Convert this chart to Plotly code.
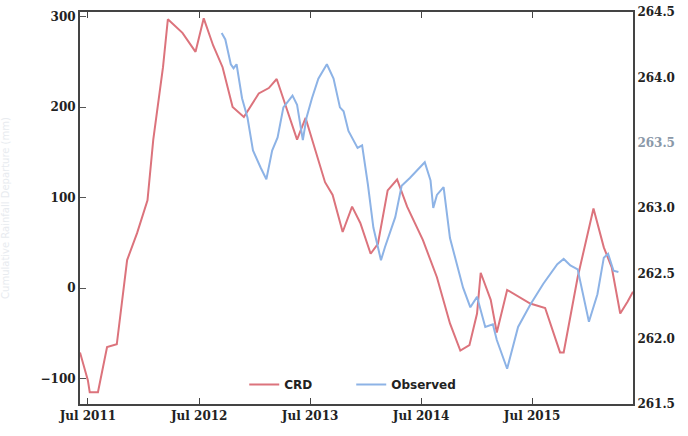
import plotly.graph_objects as go

# Cumulative rainfall departure (left axis)
crd_dates = [
    "2011-06-05", "2011-07-01", "2011-07-07", "2011-08-03", "2011-09-02", "2011-10-04",
    "2011-11-07", "2011-12-10", "2012-01-13", "2012-02-01", "2012-03-04", "2012-03-20",
    "2012-05-07", "2012-06-19", "2012-07-16", "2012-08-16", "2012-09-16", "2012-10-19",
    "2012-11-25", "2013-01-13", "2013-02-15", "2013-03-13", "2013-04-16", "2013-05-19",
    "2013-06-16", "2013-07-16", "2013-08-19", "2013-09-13", "2013-10-16", "2013-11-16",
    "2013-12-13", "2014-01-16", "2014-02-09", "2014-03-13", "2014-04-13", "2014-05-16",
    "2014-07-07", "2014-08-22", "2014-10-04", "2014-11-07", "2014-12-07", "2015-01-01",
    "2015-01-13", "2015-02-15", "2015-03-07", "2015-04-10", "2015-06-25", "2015-08-13",
    "2015-10-01", "2015-10-13", "2015-11-28", "2016-01-19", "2016-02-22", "2016-03-19",
    "2016-04-16", "2016-05-10", "2016-05-28",
]
crd_values = [
    -71, -102, -115, -115, -65, -62,
    31, 61, 97, 164, 244, 297,
    282, 261, 298, 268, 244, 200,
    189, 215, 221, 231, 197, 164,
    188, 156, 117, 103, 62, 90,
    72, 38, 49, 108, 120, 90,
    53, 12, -39, -69, -63, -28,
    17, -13, -49, -2, -17, -22,
    -71, -71, 12, 88, 45, 23,
    -28, -15, -4,
]

# Observed groundwater level (right axis)
obs_dates = [
    "2012-09-13", "2012-09-25", "2012-10-13", "2012-10-22", "2012-11-01", "2012-11-07",
    "2012-11-19", "2012-12-07", "2012-12-25", "2013-01-19", "2013-02-07", "2013-02-26",
    "2013-03-16", "2013-04-04", "2013-05-04", "2013-05-19", "2013-05-28", "2013-06-07",
    "2013-06-19", "2013-07-07", "2013-07-28", "2013-08-25", "2013-09-16", "2013-10-07",
    "2013-10-19", "2013-11-04", "2013-12-04", "2013-12-19", "2014-01-07", "2014-01-25",
    "2014-02-19", "2014-03-04", "2014-04-07", "2014-04-28", "2014-05-25", "2014-07-13",
    "2014-08-01", "2014-08-10", "2014-08-22", "2014-09-13", "2014-10-04", "2014-10-28",
    "2014-11-16", "2014-12-10", "2015-01-01", "2015-01-28", "2015-02-22", "2015-03-07",
    "2015-04-10", "2015-05-16", "2015-06-25", "2015-08-07", "2015-09-22", "2015-10-13",
    "2015-11-04", "2015-11-28", "2015-12-16", "2016-01-04", "2016-02-01", "2016-02-22",
    "2016-03-07", "2016-03-25", "2016-04-10",
]
obs_values = [
    264.34, 264.29, 264.10, 264.07, 264.10, 264.02,
    263.84, 263.69, 263.44, 263.31, 263.22, 263.44,
    263.54, 263.77, 263.86, 263.79, 263.67, 263.52,
    263.69, 263.84, 263.99, 264.10, 263.99, 263.77,
    263.74, 263.59, 263.46, 263.48, 263.18, 262.85,
    262.60, 262.70, 262.93, 263.17, 263.23, 263.35,
    263.21, 263.00, 263.10, 263.16, 262.77, 262.55,
    262.39, 262.24, 262.32, 262.09, 262.11, 261.99,
    261.77, 262.09, 262.26, 262.42, 262.57, 262.61,
    262.56, 262.53, 262.34, 262.13, 262.34, 262.62,
    262.65, 262.52, 262.51,
]

x_ticks = ["2011-07-01", "2012-07-01", "2013-07-01", "2014-07-01", "2015-07-01"]
x_tick_labels = ["Jul 2011", "Jul 2012", "Jul 2013", "Jul 2014", "Jul 2015"]
left_ticks = [-100, 0, 100, 200, 300]
right_ticks = [261.5, 262.0, 262.5, 263.0, 263.5, 264.0, 264.5]

axis_font = dict(family="DejaVu Serif", size=12, color="#222222")

fig = go.Figure()
fig.add_trace(go.Scatter(
    x=crd_dates, y=crd_values, name="<b>CRD</b>", mode="lines",
    line=dict(color="#dc737c", width=2), yaxis="y",
))
fig.add_trace(go.Scatter(
    x=obs_dates, y=obs_values, name="<b>Observed</b>", mode="lines",
    line=dict(color="#8db3e6", width=2), yaxis="y2",
))

fig.update_layout(
    width=688, height=436,
    margin=dict(l=80, r=55, t=12, b=32),
    paper_bgcolor="white", plot_bgcolor="white",
    showlegend=True,
    legend=dict(
        orientation="h", x=0.297, xanchor="left", y=0.05, yanchor="middle",
        bgcolor="rgba(0,0,0,0)", font=dict(family="DejaVu Sans", size=12, color="#222222"),
        entrywidth=62, entrywidthmode="pixels",
    ),
    xaxis=dict(
        range=["2011-06-05", "2016-05-28"], automargin=False,
        tickvals=x_ticks, ticktext=["<b>%s</b>" % t for t in x_tick_labels],
        ticks="inside", ticklen=6, tickcolor="#444444", tickwidth=1,
        showline=True, linecolor="#444444", linewidth=2, mirror="ticks",
        showgrid=False, zeroline=False, tickfont=axis_font,
    ),
    yaxis=dict(
        range=[-128, 305], automargin=False,
        tickvals=left_ticks, ticktext=["<b>%s</b>" % ("\u2212100" if v == -100 else v) for v in left_ticks],
        ticks="inside", ticklen=6, tickcolor="#555555",
        showline=True, linecolor="#444444", linewidth=2,
        showgrid=False, zeroline=False, tickfont=axis_font,
        title=dict(text="Cumulative Rainfall Departure (mm)",
                   font=dict(family="DejaVu Sans", size=10, color="#e8ebef"), standoff=48),
    ),
    yaxis2=dict(
        range=[261.5, 264.5], overlaying="y", side="right", automargin=False,
        tickvals=right_ticks,
        ticktext=[("<span style='color:#8a98a8'><b>%.1f</b></span>" % v) if v == 263.5 else "<b>%.1f</b>" % v
                  for v in right_ticks],
        ticks="", showline=True, linecolor="#444444", linewidth=2,
        showgrid=False, zeroline=False, tickfont=axis_font,
    ),
)

fig.write_html("out.html")
